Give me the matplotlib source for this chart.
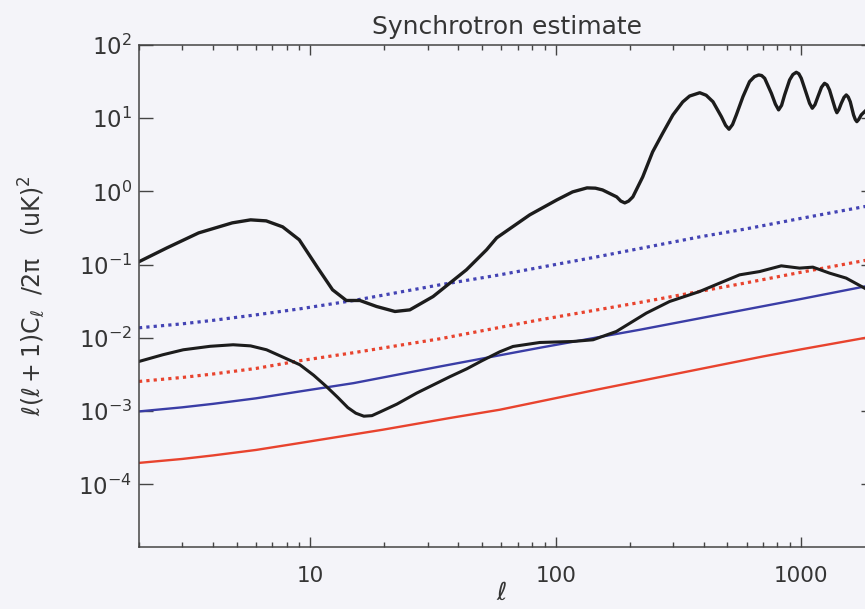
import matplotlib
matplotlib.use("Agg")
import matplotlib.pyplot as plt
from matplotlib.ticker import FixedLocator, NullLocator, NullFormatter, FuncFormatter

# E-mode spectrum (upper black curve)
ell_ee = [2.0, 2.6, 3.5, 4.8, 5.7, 6.6, 7.7, 9.0, 10.7, 12.3, 14.0, 15.9, 18.6, 22.1,
          25.4, 31.6, 43.2, 52.2, 57.4, 78.3, 101, 117, 134, 145, 155, 177, 184, 191,
          198, 206, 226, 248, 273, 300, 329, 351, 386, 410, 437, 473, 492, 508, 525,
          544, 579, 616, 645, 671, 690, 710, 756, 785, 809, 832, 856, 897, 925, 955,
          978, 1001, 1049, 1082, 1110, 1138, 1170, 1210, 1245, 1275, 1305, 1355, 1378,
          1398, 1425, 1457, 1495, 1527, 1555, 1585, 1635, 1662, 1686, 1715, 1757, 1813,
          1899]
cl_ee = [0.110, 0.170, 0.272, 0.373, 0.410, 0.397, 0.329, 0.219, 0.0907, 0.0455, 0.0325,
         0.0325, 0.0269, 0.0230, 0.0242, 0.0368, 0.0852, 0.160, 0.233, 0.480, 0.768,
         0.987, 1.12, 1.11, 1.05, 0.844, 0.74, 0.699, 0.74, 0.844, 1.58, 3.47, 6.30,
         11.1, 16.7, 20.1, 22.3, 20.6, 16.8, 10.5, 8.0, 7.08, 8.2, 11.1, 19.7, 31.6,
         37.0, 39.0, 38.3, 35.1, 21.9, 15.6, 13.0, 15.0, 20.8, 33.3, 39.5, 42.4, 40.5,
         35.1, 21.9, 16.0, 13.7, 15.3, 19.7, 26.5, 30.0, 28.5, 24.3, 16.0, 13.3, 11.9,
         13.2, 16.0, 19.3, 20.8, 19.5, 16.8, 11.1, 9.6, 8.99, 9.6, 11.1, 12.3, 14.3]

# B-mode spectrum (lower black curve)
ell_bb = [2.0, 2.5, 3.03, 3.9, 4.84, 5.7, 6.62, 7.7, 9.05, 10.3, 11.6, 12.9, 14.2, 15.3,
          16.5, 17.8, 19.3, 22.5, 27.1, 37.0, 43.4, 50.0, 59.1, 66.9, 86.0, 117.5, 141.8,
          176.5, 233.9, 290.9, 385.6, 465.1, 561.1, 677.1, 829.6, 985, 1116, 1305, 1525,
          1813, 1935]
cl_bb = [0.00478, 0.0059, 0.00690, 0.0077, 0.00808, 0.0078, 0.00690, 0.0055, 0.00431,
         0.0031, 0.00218, 0.00155, 0.00112, 0.00094, 0.000855, 0.00087, 0.000984, 0.00125,
         0.00177, 0.00296, 0.00380, 0.00489, 0.00648, 0.00766, 0.00868, 0.00896, 0.00945,
         0.01227, 0.02186, 0.0315, 0.0431, 0.0561, 0.0728, 0.0807, 0.0966, 0.0899, 0.0927,
         0.0768, 0.0657, 0.0479, 0.0427]

# synchrotron, E (dotted) and B (solid), two frequencies
ell_sync_e_blue = [2.0, 3.0, 4.0, 6.0, 9.05, 15.0, 33.7, 59.1, 146.7, 385.6, 588, 1000,
                   1813, 1935]
sync_e_blue = [0.01377, 0.0156, 0.0174, 0.0207, 0.0250, 0.0325, 0.0532, 0.0728, 0.128,
               0.240, 0.306, 0.430, 0.622, 0.648]

ell_sync_e_red = [2.0, 3.0, 4.0, 6.0, 9.05, 15.0, 33.7, 86.0, 219.6, 588, 1000, 1813, 1935]
sync_e_red = [0.00255, 0.00289, 0.00322, 0.00384, 0.00489, 0.0063, 0.00975, 0.0177,
              0.0305, 0.0561, 0.079, 0.1141, 0.119]

ell_sync_b_blue = [2.0, 3.0, 4.0, 6.0, 9.05, 15.0, 33.7, 86.0, 219.6, 588, 1000, 1813, 1935]
sync_b_blue = [0.000994, 0.00113, 0.00126, 0.00150, 0.001863, 0.00242, 0.00408, 0.00735,
               0.01294, 0.0243, 0.0341, 0.0504, 0.0525]

ell_sync_b_red = [2.0, 3.0, 4.0, 6.0, 9.05, 19.7, 37.0, 59.1, 146.3, 698, 1000, 1813, 1935]
sync_b_red = [0.000197, 0.000223, 0.000249, 0.000296, 0.000368, 0.000559, 0.000808,
              0.001048, 0.001965, 0.00559, 0.00700, 0.0100, 0.0104]

x_ticks = [10, 100, 1000]
y_ticks = [1e-4, 1e-3, 1e-2, 1e-1, 1e0, 1e1, 1e2]

BG = "#f4f4f9"
INK = "#353535"
BLUE = "#3a3da6"
RED = "#e8432e"
BLACK = "#1c1c1c"

plt.rcParams["font.family"] = ["DejaVu Sans"]
plt.rcParams["mathtext.fontset"] = "dejavusans"
plt.rcParams["mathtext.default"] = "regular"

fig = plt.figure(figsize=(8.65, 6.09), dpi=100)
fig.patch.set_facecolor(BG)
ax = fig.add_axes([0.1607, 0.1018, 0.8509, 0.8243])
ax.set_facecolor(BG)

dots = (0, (1, 1.3))
ax.plot(ell_sync_e_blue, sync_e_blue, color="#4343b4", lw=2.3, linestyle=dots)
ax.plot(ell_sync_e_red, sync_e_red, color=RED, lw=2.3, linestyle=dots)
ax.plot(ell_sync_b_blue, sync_b_blue, color=BLUE, lw=1.7)
ax.plot(ell_sync_b_red, sync_b_red, color=RED, lw=1.7)
ax.plot(ell_bb, cl_bb, color=BLACK, lw=2.2, solid_joinstyle="round")
ax.plot(ell_ee, cl_ee, color=BLACK, lw=2.4, solid_joinstyle="round")

ax.set_xscale("log")
ax.set_yscale("log")
ax.set_xlim(2, 2000)
ax.set_ylim(1.4e-5, 100)

ax.xaxis.set_major_locator(FixedLocator(x_ticks))
ax.xaxis.set_major_formatter(FuncFormatter(lambda v, _: f"{v:g}"))
ax.xaxis.set_minor_formatter(NullFormatter())
ax.yaxis.set_major_locator(FixedLocator(y_ticks))
ax.yaxis.set_minor_locator(NullLocator())

ax.tick_params(which="both", direction="in", top=True, right=True,
               color="#444444", labelcolor=INK, width=1.0)
ax.tick_params(axis="y", which="major", length=10, pad=5, labelsize=16.5)
ax.tick_params(axis="x", which="major", length=7, pad=14, labelsize=15.5)
ax.tick_params(axis="x", which="minor", length=3.5)

for sp in ax.spines.values():
    sp.set_color("#444444")
    sp.set_linewidth(1.1)

ax.set_title("Synchrotron estimate", fontsize=18, color=INK, pad=8)
ax.set_ylabel(r"$\ell(\ell+1)C_\ell$  /2$\pi$   (uK)$^2$", fontsize=17, color=INK)
ax.yaxis.set_label_coords(-0.125, 0.5)
ax.set_xlabel(r"$\ell$", fontsize=18, color=INK)
ax.xaxis.set_label_coords(0.493, -0.068)

fig.savefig("out.png", dpi=100, facecolor=fig.get_facecolor())
